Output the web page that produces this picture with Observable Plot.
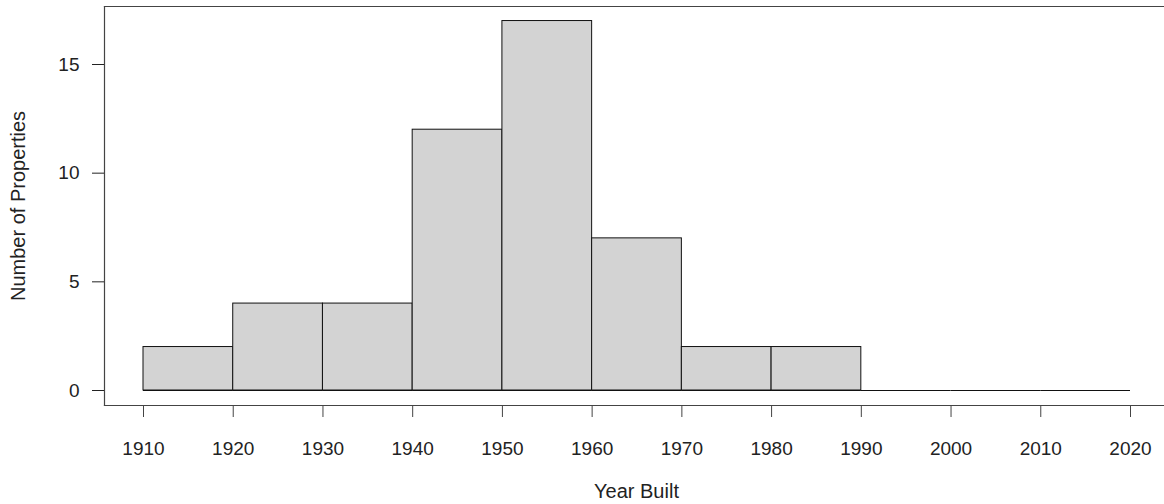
<!DOCTYPE html>
<html>
<head>
<meta charset="utf-8">
<script src="https://cdn.jsdelivr.net/npm/d3@7"></script>
<script src="https://cdn.jsdelivr.net/npm/@observablehq/plot@0.6"></script>
<style>
  html, body { margin: 0; padding: 0; background: #fff; }
  #chart svg { display: block; }
</style>
</head>
<body>
<div id="chart"></div>
<script>
// Histogram bins (year ranges) and counts
const binStarts = [1910, 1920, 1930, 1940, 1950, 1960, 1970, 1980, 1990, 2000, 2010];
const binEnds   = [1920, 1930, 1940, 1950, 1960, 1970, 1980, 1990, 2000, 2010, 2020];
const counts    = [2, 4, 4, 12, 17, 7, 2, 2, 0, 0, 0];
const xTicks = [1910, 1920, 1930, 1940, 1950, 1960, 1970, 1980, 1990, 2000, 2010, 2020];
const yTicks = [0, 5, 10, 15];
const xLabel = "Year Built";
const yLabel = "Number of Properties";

const bins = binStarts.map((s, i) => ({x1: s, x2: binEnds[i], count: counts[i]}));

const font = "'Liberation Sans', Arial, Helvetica, sans-serif";
const textColor = "#222";

const chart = Plot.plot({
  width: 1164,
  height: 504,
  marginLeft: 104,
  marginRight: 0,
  marginTop: 6,
  marginBottom: 99,
  style: {fontFamily: font, fontSize: "19px", color: textColor, background: "#fff"},
  x: {domain: [1910, 2020], range: [143, 1130]},
  y: {domain: [0, 15], range: [390, 64]},
  marks: [
    Plot.rect(bins, {x1: "x1", x2: "x2", y1: 0, y2: "count", fill: "#d3d3d3", stroke: "#111", strokeWidth: 1}),
    Plot.ruleY(bins, {y: 0, x1: "x1", x2: "x2", stroke: "#111", strokeWidth: 1}),
    Plot.frame({anchor: "left", stroke: "#444", strokeWidth: 1.2}),
    Plot.frame({anchor: "top", stroke: "#444", strokeWidth: 1.2}),
    Plot.frame({anchor: "bottom", stroke: "#444", strokeWidth: 1.2}),
    Plot.axisY({ticks: yTicks, tickSize: 12, tickPadding: 13, label: null, fontSize: 19, stroke: "#222", tickFormat: d => String(d)}),
    Plot.axisX({ticks: xTicks, tickSize: 12, tickPadding: 24, label: null, fontSize: 19, stroke: "#444", tickFormat: d => String(d)}),
    Plot.text([xLabel], {frameAnchor: "bottom", text: d => d, textAnchor: "middle", lineAnchor: "middle", dy: 86, dx: 2, fontSize: 20, fill: textColor}),
    Plot.text([yLabel], {frameAnchor: "left", text: d => d, textAnchor: "middle", lineAnchor: "middle", rotate: -90, dx: -86, fontSize: 20, fill: textColor})
  ]
});
document.getElementById("chart").appendChild(chart);
</script>
</body>
</html>
